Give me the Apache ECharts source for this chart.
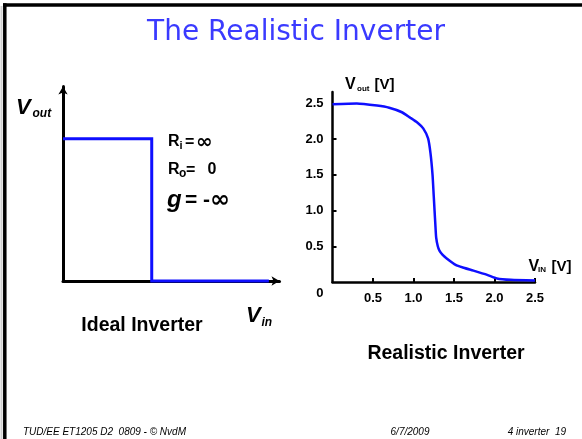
<!DOCTYPE html>
<html>
<head>
<meta charset="utf-8">
<script src="https://cdn.jsdelivr.net/npm/echarts@6/dist/echarts.min.js"></script>
<style>
  html, body { margin: 0; padding: 0; background: #fff; }
  #chart { width: 582px; height: 439px; }
</style>
</head>
<body>
<div id="chart"></div>
<script>
// Ideal inverter: a perfect step at VDD/2 (VDD = 2.5)
const idealVin  = [0, 1.25, 1.25, 2.9];
const idealVout = [2.5, 2.5, 0, 0];

// Realistic inverter voltage transfer characteristic [V]
const realVin  = [0, 0.3, 0.55, 0.7, 0.85, 0.96, 1.05, 1.12, 1.18, 1.21, 1.235, 1.25, 1.26, 1.27, 1.28, 1.30, 1.32, 1.36, 1.41, 1.52, 1.62, 1.74, 1.91, 2.03, 2.2, 2.5];
const realVout = [2.49, 2.50, 2.47, 2.44, 2.38, 2.30, 2.23, 2.15, 2.01, 1.80, 1.50, 1.20, 1.00, 0.80, 0.62, 0.50, 0.44, 0.38, 0.33, 0.24, 0.20, 0.16, 0.10, 0.05, 0.03, 0.02];

// Axis ticks of the realistic plot
const realTicks = [0, 0.5, 1.0, 1.5, 2.0, 2.5];
const realTickLabels = ['0', '0.5', '1.0', '1.5', '2.0', '2.5'];

const SANS = '"Liberation Sans", Arial, sans-serif';
const DEJA = '"DejaVu Sans", Verdana, sans-serif';
const BLUE = '#0f0fff';

function label(v) {
  const i = realTicks.indexOf(v);
  return i < 0 ? '' : realTickLabels[i];
}

function txt(x, y, text, font, align, fill) {
  return {
    type: 'text', x: x, y: y, silent: true,
    style: {
      text: text, font: font, fill: fill || '#000',
      textAlign: align || 'left', textVerticalAlign: 'middle'
    }
  };
}

const chart = echarts.init(document.getElementById('chart'), null, { renderer: 'canvas' });

const option = {
  backgroundColor: '#fff',
  animation: false,
  grid: [
    { left: 63, top: 86.5, width: 216.5, height: 194.5, outerBoundsMode: 'none', containLabel: false },
    { left: 332.5, top: 92, width: 202.5, height: 190, outerBoundsMode: 'none', containLabel: false }
  ],
  xAxis: [
    {
      gridIndex: 0, type: 'value', min: 0, max: 3.05,
      axisLine: { show: true, symbol: ['none', 'arrow'], symbolSize: [7, 8], lineStyle: { color: '#000', width: 3 } },
      axisTick: { show: false }, axisLabel: { show: false }, splitLine: { show: false }
    },
    {
      gridIndex: 1, type: 'value', min: 0, max: 2.5, interval: 0.5,
      axisLine: { show: true, lineStyle: { color: '#000', width: 2.5 } },
      axisTick: { show: true, inside: true, length: 4, lineStyle: { color: '#000', width: 2 }, customValues: realTicks.slice(1) },
      axisLabel: {
        show: true, margin: 10, color: '#000', fontFamily: SANS, fontWeight: 'bold', fontSize: 13,
        customValues: realTicks.slice(1), formatter: label
      },
      splitLine: { show: false }
    }
  ],
  yAxis: [
    {
      gridIndex: 0, type: 'value', min: 0, max: 3.42,
      axisLine: { show: true, symbol: ['none', 'arrow'], symbolSize: [7, 8], lineStyle: { color: '#000', width: 3 } },
      axisTick: { show: false }, axisLabel: { show: false }, splitLine: { show: false }
    },
    {
      gridIndex: 1, type: 'value', min: 0, max: 2.66, interval: 0.5,
      axisLine: { show: true, lineStyle: { color: '#000', width: 2.5 } },
      axisTick: { show: true, inside: true, length: 4, lineStyle: { color: '#000', width: 2 }, customValues: realTicks.slice(1) },
      axisLabel: {
        show: true, margin: 9, color: '#000', fontFamily: SANS, fontWeight: 'bold', fontSize: 13,
        customValues: realTicks,
        formatter: function (v) { return v === 0 ? '{z|' + label(v) + '}' : label(v); },
        rich: { z: { padding: [22, 0, 0, 0], color: '#000', fontFamily: SANS, fontWeight: 'bold', fontSize: 13 } }
      },
      splitLine: { show: false }
    }
  ],
  series: [
    {
      name: 'Ideal Inverter', type: 'line', xAxisIndex: 0, yAxisIndex: 0,
      data: idealVin.map((v, i) => [v, idealVout[i]]),
      symbol: 'none', clip: false, z: 5,
      lineStyle: { color: BLUE, width: 3, join: 'miter', cap: 'butt' }
    },
    {
      name: 'Realistic Inverter', type: 'line', xAxisIndex: 1, yAxisIndex: 1,
      data: realVin.map((v, i) => [v, realVout[i]]),
      symbol: 'none', clip: false, smooth: 0.2, z: 5,
      lineStyle: { color: BLUE, width: 2.5, join: 'round' }
    }
  ],
  graphic: [
    // slide frame
    { type: 'line', silent: true, shape: { x1: 1.5, y1: 6, x2: 1.5, y2: 439 }, style: { stroke: '#cfcfcf', lineWidth: 2 } },
    { type: 'line', silent: true, shape: { x1: 3, y1: 5, x2: 582, y2: 5 }, style: { stroke: '#000', lineWidth: 3.5 } },
    { type: 'line', silent: true, shape: { x1: 4.8, y1: 3.3, x2: 4.8, y2: 439 }, style: { stroke: '#000', lineWidth: 3.5 } },

    // title
    txt(296, 33, 'The Realistic Inverter', '28px ' + DEJA, 'center', '#3a3aff'),

    // ideal inverter annotations
    txt(16, 107.5, 'V', 'italic bold 22px ' + SANS),
    txt(32.5, 113.5, 'out', 'italic bold 12px ' + SANS),
    txt(168, 142, 'R', 'bold 16px ' + SANS),
    txt(179.5, 145.5, 'i', 'bold 11px ' + SANS),
    txt(185, 142.5, '=', 'bold 16px ' + SANS),
    txt(196, 143, '\u221E', 'bold 20px ' + DEJA),
    txt(168, 170, 'R', 'bold 16px ' + SANS),
    txt(179, 173.5, 'o', 'bold 12px ' + SANS),
    txt(186, 170.5, '=', 'bold 16px ' + SANS),
    txt(207.5, 170, '0', 'bold 16px ' + SANS),
    txt(167, 200, 'g', 'italic bold 24px ' + SANS),
    txt(185, 200.5, '=', 'bold 21px ' + SANS),
    txt(203, 200.5, '-', 'bold 21px ' + SANS),
    txt(210, 201, '\u221E', 'bold 24px ' + DEJA),
    txt(246, 316, 'V', 'italic bold 22px ' + SANS),
    txt(261.5, 323, 'in', 'italic bold 12px ' + SANS),
    txt(142, 326, 'Ideal Inverter', 'bold 19.5px ' + SANS, 'center'),

    // realistic inverter axis names and caption
    txt(345, 85, 'V', 'bold 16px ' + SANS),
    txt(357, 89, 'out', 'bold 8px ' + SANS),
    txt(374.5, 85, '[V]', 'bold 15px ' + SANS),
    txt(528.5, 267, 'V', 'bold 16px ' + SANS),
    txt(538, 270, 'IN', 'bold 8px ' + SANS),
    txt(551.5, 267, '[V]', 'bold 15px ' + SANS),
    txt(446, 354, 'Realistic Inverter', 'bold 19.5px ' + SANS, 'center'),

    // footer
    txt(23, 432, 'TUD/EE ET1205 D2  0809 - \u00A9 NvdM', 'italic 10px ' + SANS),
    txt(410, 432, '6/7/2009', 'italic 10px ' + SANS, 'center'),
    txt(566, 432, '4 inverter  19', 'italic 10px ' + SANS, 'right')
  ]
};

chart.setOption(option);
</script>
</body>
</html>
